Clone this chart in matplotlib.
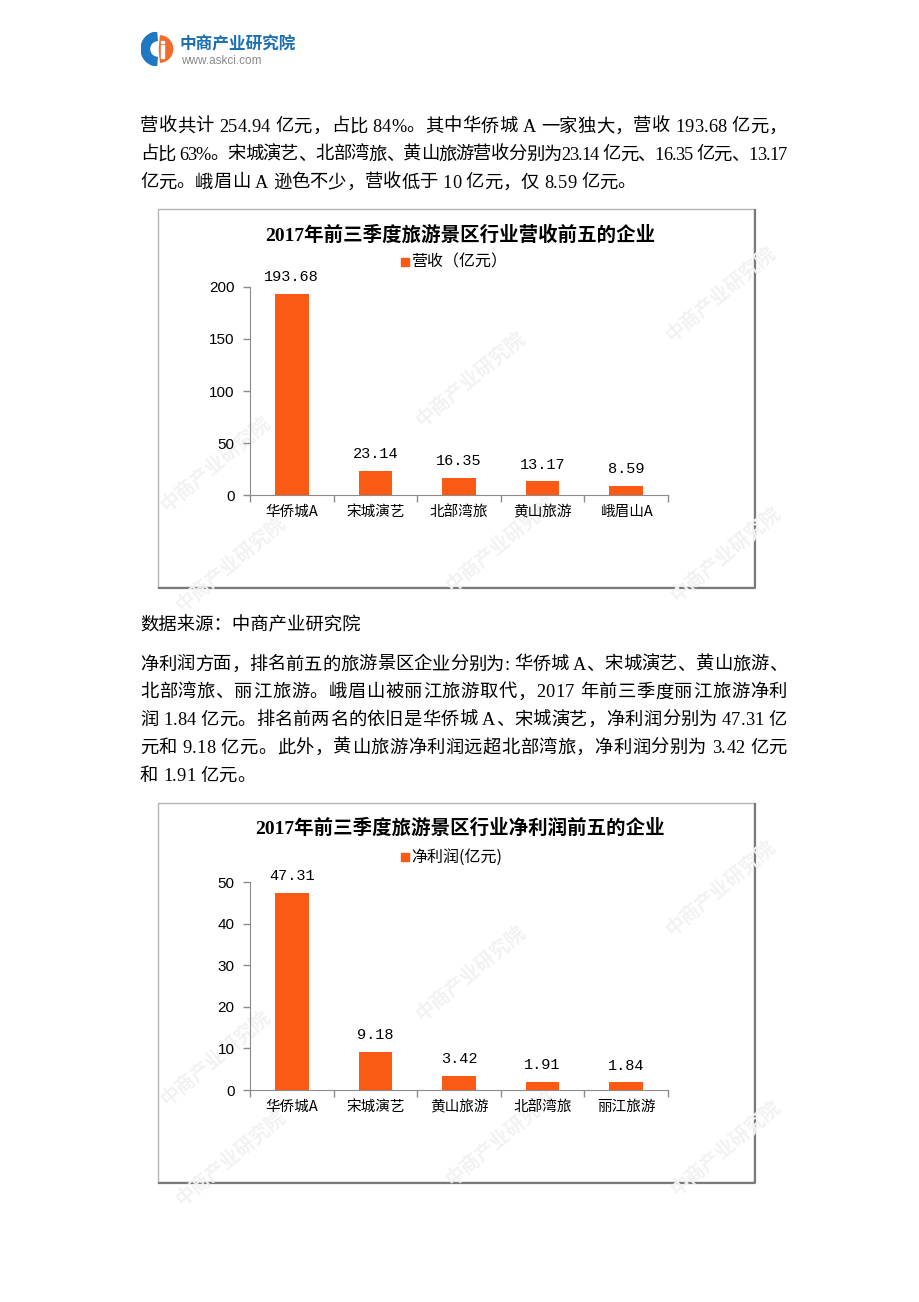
import matplotlib
matplotlib.use("Agg")
import matplotlib.pyplot as plt
from matplotlib.patches import Rectangle, Wedge
from matplotlib.lines import Line2D

plt.rcParams['font.family'] = ['Noto Sans CJK SC', 'DejaVu Sans']

# ---- data ----
rev_companies = ['华侨城A', '宋城演艺', '北部湾旅', '黄山旅游', '峨眉山A']
rev_values = [193.68, 23.14, 16.35, 13.17, 8.59]
rev_ticks = [0, 50, 100, 150, 200]

np_companies = ['华侨城A', '宋城演艺', '黄山旅游', '北部湾旅', '丽江旅游']
np_values = [47.31, 9.18, 3.42, 1.91, 1.84]
np_ticks = [0, 10, 20, 30, 40, 50]

para1 = ["营收共计 254.94 亿元，占比 84%。其中华侨城 A 一家独大，营收 193.68 亿元，",
         "占比 63%。宋城演艺、北部湾旅、黄山旅游营收分别为23.14 亿元、16.35 亿元、13.17",
         "亿元。峨眉山 A 逊色不少，营收低于 10 亿元，仅 8.59 亿元。"]
source = "数据来源：中商产业研究院"
para2 = ["净利润方面，排名前五的旅游景区企业分别为: 华侨城 A、宋城演艺、黄山旅游、",
         "北部湾旅、丽江旅游。峨眉山被丽江旅游取代，2017 年前三季度丽江旅游净利",
         "润 1.84 亿元。排名前两名的依旧是华侨城 A、宋城演艺，净利润分别为 47.31 亿",
         "元和 9.18 亿元。此外，黄山旅游净利润远超北部湾旅，净利润分别为 3.42 亿元",
         "和 1.91 亿元。"]

W, H = 920, 1302
BAR = '#FA5A14'
AXC = '#8c8c8c'
BODY = ['Liberation Serif', 'Noto Sans CJK SC']
FS = 13.2

fig = plt.figure(figsize=(W / 100, H / 100), dpi=100)
fig.patch.set_facecolor('white')
renderer = fig.canvas.get_renderer()


def fx(x):
    return x / W


def fy(y):
    return 1 - y / H


def body_line(y, line, justify):
    # place chars one by one so full lines reach the right margin
    left, right = 140, 787
    widths = []
    for ch in line:
        t = fig.text(0, 0, ch, fontsize=FS, family=BODY)
        widths.append(t.get_window_extent(renderer).width)
        t.remove()
    total = sum(widths)
    gap = (right - left - total) / (len(line) - 1) if justify else 0
    x = left
    for ch, w in zip(line, widths):
        fig.text(fx(x), fy(y), ch, fontsize=FS, family=BODY, va='center', ha='left')
        x += w + gap


# ---- header logo ----
lax = fig.add_axes([fx(141), fy(66), 34 / W, 34 / H])
lax.set_xlim(-1, 1)
lax.set_ylim(-1, 1)
lax.set_aspect('equal')
lax.axis('off')
lax.add_patch(Wedge((0, 0), 1.0, 95, 265, width=0.5, color='#1f78c1'))
lax.add_patch(Wedge((0.08, 0), 0.78, -85, 85, color='#f26b2a'))
lax.add_patch(Rectangle((0.18, -0.5), 0.16, 0.75, color='white'))
lax.add_patch(Rectangle((0.18, 0.35), 0.16, 0.14, color='white'))
fig.text(fx(180), fy(44), '中商产业研究院', fontsize=12, fontweight='bold',
         color='#1c6fb5', va='center', ha='left')
fig.text(fx(181), fy(61), 'www.askci.com', fontsize=8.5, color='#8a8a8a',
         va='center', ha='left', family=['Liberation Sans'])

# ---- body text ----
for i, line in enumerate(para1):
    body_line(127 + 28 * i, line, i < len(para1) - 1)
fig.text(fx(140), fy(625), source, fontsize=FS, family=BODY, va='center', ha='left')
for i, line in enumerate(para2):
    body_line(665 + 27.8 * i, line, i < len(para2) - 1)


def frame(top, bottom, left=158, right=754):
    fig.patches.append(Rectangle((fx(left), fy(bottom)), fx(right) - fx(left),
                                 fy(top) - fy(bottom), transform=fig.transFigure,
                                 facecolor='white', edgecolor='#b5b5b5', lw=1.0, zorder=-2))
    fig.lines.append(Line2D([fx(left + 1), fx(right + 1), fx(right + 1)],
                            [fy(bottom + 1), fy(bottom + 1), fy(top + 1)],
                            transform=fig.transFigure, color='#7a7a7a', lw=1.6, zorder=-1))


def watermarks(top):
    spots = [(215, 255), (470, 170), (720, 85), (500, 335), (725, 345), (230, 355)]
    for x, dy in spots:
        fig.text(fx(x), fy(top + dy), '中商产业研究院', fontsize=14, fontweight='bold',
                 color='#f2f2f2', rotation=40, ha='center', va='center', zorder=-0.5)


def bar_chart(top, bottom, ax_top, ax_bottom, title, legend, cats, vals, ticks,
              legend_y, title_y):
    frame(top, bottom)
    watermarks(top)
    fig.text(fx(460), fy(title_y), title, fontsize=14, fontweight='bold',
             ha='center', va='center', family=BODY)
    ax = fig.add_axes([fx(250), fy(ax_bottom), 418 / W, (ax_bottom - ax_top) / H])
    ax.set_zorder(1)
    ax.patch.set_alpha(0)
    x = list(range(len(cats)))
    ax.bar(x, vals, width=0.4, color=BAR, zorder=3)
    for xi, v in zip(x, vals):
        ax.annotate(f'{v:.2f}', (xi, v), xytext=(0, 7), textcoords='offset points',
                    ha='center', va='bottom', fontsize=11, family=['Liberation Mono'],
                    annotation_clip=False)
    ax.set_xlim(-0.5, len(cats) - 0.5)
    ax.set_ylim(0, ticks[-1])
    ax.set_yticks(ticks)
    ax.set_yticklabels([str(t) for t in ticks], fontsize=11, family=['Liberation Sans'])
    ax.set_xticks([i - 0.5 for i in range(len(cats) + 1)])
    ax.set_xticklabels([])
    ax.set_xticks(x, minor=True)
    ax.set_xticklabels(cats, minor=True, fontsize=10.5)
    ax.tick_params(axis='x', which='major', length=5, color=AXC, width=1)
    ax.tick_params(axis='x', which='minor', length=0, pad=7)
    ax.tick_params(axis='y', length=5, color=AXC, width=1, pad=6)
    for s in ['top', 'right']:
        ax.spines[s].set_visible(False)
    for s in ['left', 'bottom']:
        ax.spines[s].set_color(AXC)
    # legend
    fig.patches.append(Rectangle((fx(401), fy(legend_y + 4)), 8 / W, 8 / H,
                                 transform=fig.transFigure, color=BAR))
    fig.text(fx(411), fy(legend_y), legend, fontsize=11.5, ha='left', va='center')
    return ax


bar_chart(209, 587, 287, 495, '2017年前三季度旅游景区行业营收前五的企业', '营收（亿元）',
          rev_companies, rev_values, rev_ticks, 262, 235)
bar_chart(803, 1182, 882, 1090, '2017年前三季度旅游景区行业净利润前五的企业', '净利润(亿元)',
          np_companies, np_values, np_ticks, 857, 828)

fig.savefig('out.png', dpi=100, facecolor='white')
